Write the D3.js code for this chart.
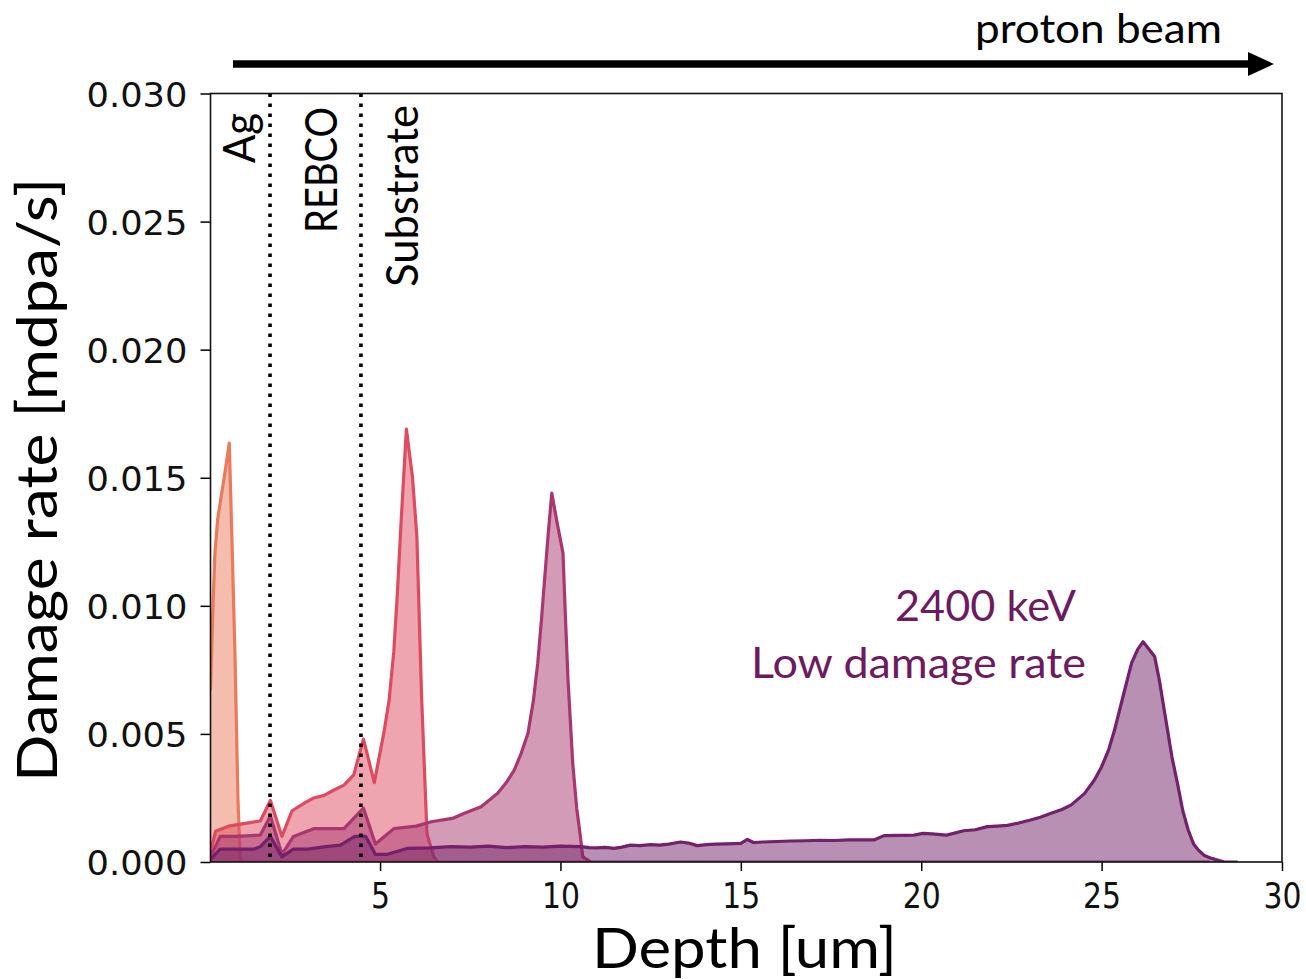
<!DOCTYPE html>
<html>
<head>
<meta charset="utf-8">
<script src="https://cdn.jsdelivr.net/npm/d3@7"></script>
<style>
  html, body { margin: 0; padding: 0; background: #fff; }
  svg { display: block; }
</style>
</head>
<body>
<svg id="chart" width="1306" height="979"></svg>
<script>
// ---- data: damage rate (mdpa/s) versus depth (um) for four beam energies ----
const depthE1 = [0.30, 0.36, 0.42, 0.50, 0.60, 0.70, 0.82, 0.90, 0.98, 1.06, 1.12, 1.18, 6.50];
const rateE1  = [0.0067, 0.0096, 0.0120, 0.0134, 0.0143, 0.0152, 0.01635, 0.0123, 0.0080, 0.0025, 0.0002, 0, 0];

const depthE2 = [0.30, 0.44, 0.80, 1.22, 1.68, 1.96, 2.28, 2.56, 2.90, 3.16, 3.45, 3.71, 4.00, 4.27, 4.54, 4.84, 5.10, 5.25, 5.38, 5.48, 5.58, 5.73, 5.90, 6.02, 6.15, 6.30, 6.49, 6.60, 10.80];
const rateE2  = [0.0004, 0.0012, 0.0014, 0.0015, 0.0016, 0.0024, 0.0010, 0.0020, 0.0023, 0.0025, 0.0026, 0.0028, 0.0030, 0.0034, 0.0048, 0.0031, 0.0050, 0.0063, 0.0082, 0.0105, 0.0132, 0.0169, 0.0150, 0.0127, 0.0065, 0.0011, 0.0002, 0, 0];

const depthE3 = [0.30, 0.57, 1.00, 1.68, 1.96, 2.28, 2.60, 3.16, 3.60, 4.00, 4.54, 4.87, 5.38, 6.00, 6.42, 7.00, 7.34, 7.80, 8.26, 8.50, 8.72, 8.90, 9.10, 9.25, 9.37, 9.47, 9.56, 9.66, 9.76, 9.90, 10.07, 10.14, 10.21, 10.34, 10.45, 10.53, 10.62, 10.85, 28.00];
const rateE3  = [0.0002, 0.0010, 0.0010, 0.00105, 0.0018, 0.0003, 0.0010, 0.0013, 0.0013, 0.0013, 0.0021, 0.0007, 0.0013, 0.0014, 0.00157, 0.0017, 0.0019, 0.00216, 0.00268, 0.0031, 0.00359, 0.0042, 0.00503, 0.0063, 0.00776, 0.0094, 0.01102, 0.0128, 0.0144, 0.0133, 0.01206, 0.0095, 0.00711, 0.00386, 0.0021, 0.00125, 0.0002, 0, 0];

const depthE4 = [0.30, 0.57, 1.00, 1.50, 1.68, 1.96, 2.28, 2.60, 3.00, 3.50, 3.90, 4.30, 4.60, 4.87, 5.20, 5.75, 6.40, 6.95, 7.50, 8.00, 8.50, 9.00, 9.50, 10.00, 10.56, 10.80, 11.00, 11.25, 11.48, 11.70, 11.94, 12.20, 12.50, 12.75, 13.00, 13.33, 13.55, 13.79, 14.05, 14.30, 14.60, 15.00, 15.18, 15.35, 15.60, 16.00, 16.40, 16.80, 17.20, 17.60, 18.00, 18.40, 18.69, 18.97, 19.40, 19.80, 20.05, 20.30, 20.70, 21.18, 21.50, 21.83, 22.10, 22.39, 22.70, 23.03, 23.30, 23.60, 23.90, 24.16, 24.53, 24.80, 25.00, 25.20, 25.36, 25.60, 25.83, 26.00, 26.15, 26.47, 26.60, 26.75, 26.95, 27.12, 27.25, 27.40, 27.55, 27.68, 27.85, 28.05, 28.40, 28.77];
const rateE4  = [0.0001, 0.0005, 0.0005, 0.0005, 0.0006, 0.0010, 0.0002, 0.0005, 0.0005, 0.0006, 0.00066, 0.0010, 0.0010, 0.0003, 0.0003, 0.00053, 0.00055, 0.0006, 0.00058, 0.00062, 0.00056, 0.0006, 0.00058, 0.00062, 0.0006, 0.00056, 0.00055, 0.00057, 0.00053, 0.00058, 0.00066, 0.00064, 0.00068, 0.00066, 0.0007, 0.00078, 0.00074, 0.00064, 0.00068, 0.0007, 0.00071, 0.00073, 0.00088, 0.00076, 0.00078, 0.0008, 0.00082, 0.00083, 0.00085, 0.00084, 0.00086, 0.00086, 0.00086, 0.00103, 0.00104, 0.00105, 0.00112, 0.0011, 0.00105, 0.00122, 0.00126, 0.00138, 0.0014, 0.00143, 0.00152, 0.00164, 0.00175, 0.0019, 0.00205, 0.00223, 0.00268, 0.0032, 0.00372, 0.0044, 0.00516, 0.0065, 0.00776, 0.0083, 0.0086, 0.00802, 0.0071, 0.00581, 0.0041, 0.00294, 0.0020, 0.00125, 0.0007, 0.00047, 0.00025, 0.00014, 0, 0];

const seriesColors = ["#e97b5c", "#dd4b60", "#a9376f", "#72216a"];

// layer boundaries (um) and their labels
const layerBounds = [1.95, 4.47];
const layerLabels = ["Ag", "REBCO", "Substrate"];

const xTicks = [5, 10, 15, 20, 25, 30];
const yTicks = [0.000, 0.005, 0.010, 0.015, 0.020, 0.025, 0.030];

const xTitle = "Depth [um]";
const yTitle = "Damage rate [mdpa/s]";
const beamLabel = "proton beam";
const noteLines = ["2400 keV", "Low damage rate"];

// ---- layout ----
const svg = d3.select("#chart");
const plot = { left: 210.5, right: 1282, top: 93.5, bottom: 862 };

const x = d3.scaleLinear().domain([0.30, 30]).range([plot.left, plot.right]);
const y = d3.scaleLinear().domain([0, 0.030]).range([plot.bottom, plot.top]);

svg.append("rect").attr("width", 1306).attr("height", 979).attr("fill", "#fff");

svg.append("defs").append("clipPath").attr("id", "plotClip")
  .append("rect")
  .attr("x", plot.left).attr("y", plot.top)
  .attr("width", plot.right - plot.left).attr("height", plot.bottom - plot.top);

const series = [
  { depth: depthE1, rate: rateE1 },
  { depth: depthE2, rate: rateE2 },
  { depth: depthE3, rate: rateE3 },
  { depth: depthE4, rate: rateE4 }
];

const area = d3.area().x(d => x(d[0])).y0(y(0)).y1(d => y(d[1]));
const line = d3.line().x(d => x(d[0])).y(d => y(d[1]));

const marks = svg.append("g").attr("clip-path", "url(#plotClip)");
series.forEach((s, i) => {
  const pts = s.depth.map((d, k) => [d, s.rate[k]]);
  marks.append("path").datum(pts)
    .attr("d", area)
    .attr("fill", seriesColors[i])
    .attr("fill-opacity", 0.5);
  marks.append("path").datum(pts)
    .attr("d", line)
    .attr("fill", "none")
    .attr("stroke", seriesColors[i])
    .attr("stroke-width", 3.2)
    .attr("stroke-linejoin", "round");
});

// layer boundaries
marks.selectAll("line.bound").data(layerBounds).enter().append("line")
  .attr("class", "bound")
  .attr("x1", d => x(d)).attr("x2", d => x(d))
  .attr("y1", plot.top).attr("y2", plot.bottom)
  .attr("stroke", "#000").attr("stroke-width", 3.6)
  .attr("stroke-dasharray", "3.6 6.4");

// axes
const xAxis = d3.axisBottom(x).tickValues(xTicks).tickSize(9).tickFormat(d3.format("d"));
const yAxis = d3.axisLeft(y).tickValues(yTicks).tickSize(10).tickFormat(d3.format(".3f"));

const gx = svg.append("g").attr("transform", `translate(0,${plot.bottom})`).call(xAxis);
const gy = svg.append("g").attr("transform", `translate(${plot.left},0)`).call(yAxis);

[gx, gy].forEach(g => {
  g.select(".domain").remove();
  g.selectAll(".tick line").attr("stroke", "#000").attr("stroke-width", 1.5);
});

gx.selectAll(".tick text")
  .attr("font-family", "DejaVu Sans").attr("font-size", 36).attr("fill", "#111")
  .attr("y", 0).attr("dy", 0)
  .attr("transform", "translate(0,46)")
  .attr("textLength", d => String(d).length * 19)
  .attr("lengthAdjust", "spacingAndGlyphs");

gy.selectAll(".tick text")
  .attr("font-family", "DejaVu Sans").attr("font-size", 34).attr("fill", "#111")
  .attr("x", -23).attr("dy", 0).attr("y", 12.5)
  .attr("textLength", 101)
  .attr("lengthAdjust", "spacingAndGlyphs");

// frame
svg.append("rect")
  .attr("x", plot.left).attr("y", plot.top)
  .attr("width", plot.right - plot.left).attr("height", plot.bottom - plot.top)
  .attr("fill", "none").attr("stroke", "#111").attr("stroke-width", 1.6);

// axis titles
svg.append("text")
  .attr("x", 744.5).attr("y", 968)
  .attr("text-anchor", "middle")
  .attr("font-family", "Lato").attr("font-size", 56).attr("fill", "#000")
  .attr("textLength", 305).attr("lengthAdjust", "spacingAndGlyphs")
  .text(xTitle);

svg.append("text")
  .attr("transform", "translate(57,480) rotate(-90)")
  .attr("text-anchor", "middle")
  .attr("font-family", "Lato").attr("font-size", 56).attr("fill", "#000")
  .attr("textLength", 604).attr("lengthAdjust", "spacingAndGlyphs")
  .text(yTitle);

// layer labels, written upward
const labelPos = [
  { bx: 255, by: 163, len: 50 },
  { bx: 336.5, by: 233, len: 126 },
  { bx: 418, by: 287, len: 182 }
];
layerLabels.forEach((t, i) => {
  const p = labelPos[i];
  svg.append("text")
    .attr("transform", `translate(${p.bx},${p.by}) rotate(-90)`)
    .attr("text-anchor", "start")
    .attr("font-family", "Lato").attr("font-size", 44).attr("fill", "#000")
    .attr("textLength", p.len).attr("lengthAdjust", "spacingAndGlyphs")
    .text(t);
});

// beam direction arrow
svg.append("line")
  .attr("x1", 233).attr("x2", 1250).attr("y1", 64).attr("y2", 64)
  .attr("stroke", "#000").attr("stroke-width", 7.5);
svg.append("path")
  .attr("d", "M1248,52 L1274,64 L1248,76 Z")
  .attr("fill", "#000");
svg.append("text")
  .attr("x", 975).attr("y", 43)
  .attr("font-family", "Lato").attr("font-size", 40).attr("fill", "#000")
  .attr("textLength", 247).attr("lengthAdjust", "spacingAndGlyphs")
  .text(beamLabel);

// energy note
const noteColor = "#6d1b60";
svg.append("text")
  .attr("x", 1076).attr("y", 621).attr("text-anchor", "end")
  .attr("font-family", "Lato").attr("font-size", 42).attr("fill", noteColor)
  .attr("textLength", 181).attr("lengthAdjust", "spacingAndGlyphs")
  .text(noteLines[0]);
svg.append("text")
  .attr("x", 1086).attr("y", 678).attr("text-anchor", "end")
  .attr("font-family", "Lato").attr("font-size", 42).attr("fill", noteColor)
  .attr("textLength", 335).attr("lengthAdjust", "spacingAndGlyphs")
  .text(noteLines[1]);
</script>
</body>
</html>
